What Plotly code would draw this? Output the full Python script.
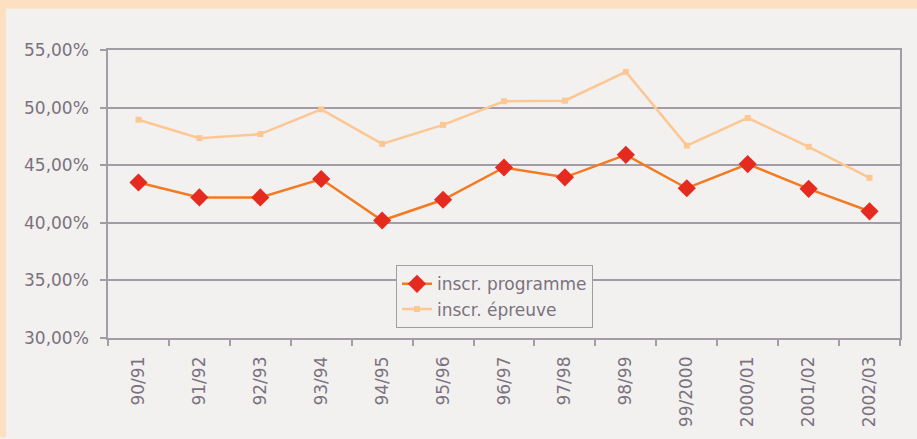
import plotly.graph_objects as go

categories = ["90/91", "91/92", "92/93", "93/94", "94/95", "95/96", "96/97",
              "97/98", "98/99", "99/2000", "2000/01", "2001/02", "2002/03"]
programme = [43.5, 42.2, 42.2, 43.8, 40.2, 42.0, 44.8, 43.95, 45.9, 43.0, 45.1, 42.95, 41.0]
epreuve = [48.95, 47.35, 47.7, 49.85, 46.85, 48.5, 50.55, 50.6, 53.1, 46.7, 49.1, 46.6, 43.9]
y_ticks = [30, 35, 40, 45, 50, 55]
y_tick_labels = ["30,00%", "35,00%", "40,00%", "45,00%", "50,00%", "55,00%"]

PEACH = "#fde0c2"
BG = "#f2f1ef"
GRID = "#a29ca6"
TXT = "#7b7280"

fig = go.Figure()
fig.add_trace(go.Scatter(
    x=categories, y=programme, name="inscr. programme", mode="lines+markers",
    line=dict(color="#f47a22", width=2.5),
    marker=dict(symbol="diamond", size=14, color="#e52b20"),
))
fig.add_trace(go.Scatter(
    x=categories, y=epreuve, name="inscr. épreuve", mode="lines+markers",
    line=dict(color="#fdc793", width=2.5),
    marker=dict(symbol="square", size=6, color="#fdc793"),
))

W, H = 917, 439
L, R, T, B = 108, 17, 50, 96
pw, ph = W - L - R, H - T - B
def px(x):
    return (x - L) / pw
def py(y):
    return (H - B - y) / ph

# peach frame: top band and left band
fig.add_shape(type="rect", xref="paper", yref="paper", layer="below",
              x0=px(-5), x1=px(W + 5), y0=py(8), y1=py(-5),
              fillcolor=PEACH, line=dict(width=0))
fig.add_shape(type="rect", xref="paper", yref="paper", layer="below",
              x0=px(-5), x1=px(6), y0=py(H + 5), y1=py(-5),
              fillcolor=PEACH, line=dict(width=0))

fig.update_layout(
    width=W, height=H,
    margin=dict(l=L, r=R, t=T, b=B),
    paper_bgcolor=BG, plot_bgcolor=BG,
    font=dict(family="DejaVu Sans", color=TXT, size=17),
    showlegend=True,
    legend=dict(x=px(396), y=py(269), xanchor="left", yanchor="top",
                bgcolor=BG, bordercolor=GRID, borderwidth=1,
                font=dict(family="DejaVu Sans", size=17, color=TXT),
                tracegroupgap=0),
    xaxis=dict(
        type="category", range=[-0.5, 12.5], tickangle=-90,
        showline=True, linecolor=GRID, linewidth=1.5, mirror=True,
        ticks="outside", ticklen=6, tickcolor=GRID, tickwidth=1.5,
        tickson="boundaries", showgrid=False, ticklabelstandoff=10,
        tickfont=dict(size=17, color=TXT),
    ),
    yaxis=dict(
        range=[30, 55], tickvals=y_ticks, ticktext=y_tick_labels,
        showline=True, linecolor=GRID, linewidth=1.5, mirror=True,
        ticks="outside", ticklen=6, tickcolor=GRID, tickwidth=1.5,
        showgrid=True, gridcolor=GRID, gridwidth=1.5, zeroline=False,
        ticklabelstandoff=8, tickfont=dict(size=17, color=TXT),
    ),
)

fig.write_html("out.html", config={"displayModeBar": False},
               post_script="document.body.style.margin='0';document.body.style.padding='0';")
